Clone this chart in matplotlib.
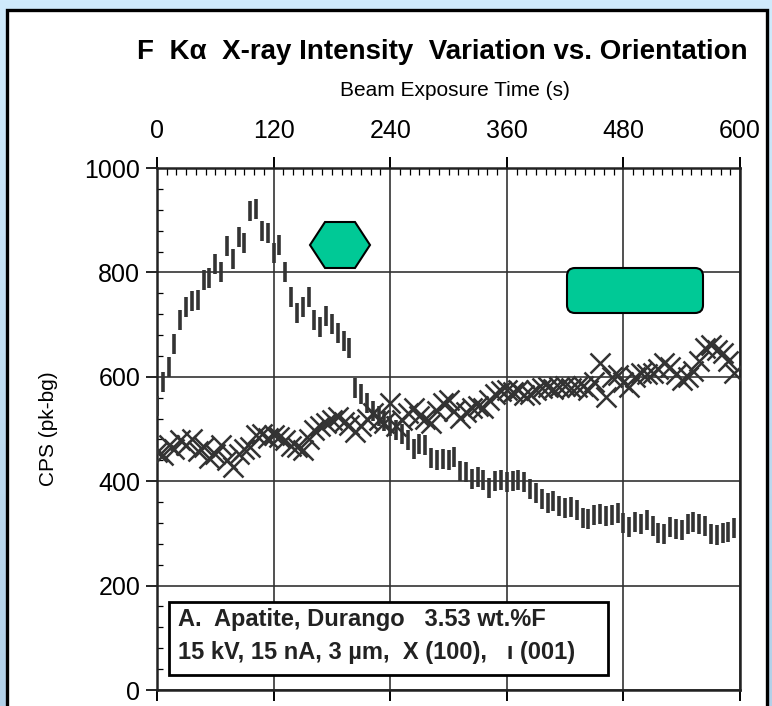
import numpy as np
import matplotlib
matplotlib.use("Agg")
import matplotlib.pyplot as plt
from matplotlib.patches import Rectangle, Polygon, FancyBboxPatch
from matplotlib.ticker import MultipleLocator
from matplotlib.colors import LinearSegmentedColormap

plt.rcParams['font.family'] = ['Liberation Sans', 'DejaVu Sans']

# ---------------------------------------------------------------------------
# Data (one point every 6 s)
time_s = np.arange(0, 600, 6)

cps_100 = [455, 450, 470, 462, 478, 470, 480, 458, 466, 445,
           452, 470, 440, 427, 452, 462, 466, 488, 490, 482,
           488, 484, 478, 468, 465, 459, 480, 498, 505, 511,
           518, 523, 513, 508, 495, 505, 520, 530, 517, 512,
           549, 505, 517, 530, 541, 525, 520, 511, 535, 549,
           555, 535, 522, 532, 541, 545, 541, 555, 568, 572,
           574, 570, 574, 566, 568, 574, 578, 580, 576, 580,
           582, 578, 580, 582, 575, 590, 626, 561, 600, 603,
           590, 580, 600, 607, 605, 607, 615, 626, 618, 605,
           593, 600, 612, 630, 656, 660, 652, 645, 630, 607]

cps_001 = [545, 590, 618, 662, 708, 733, 745, 748, 785, 789,
           817, 800, 850, 825, 867, 857, 918, 922, 880, 876,
           838, 852, 800, 752, 722, 733, 752, 708, 695, 716,
           702, 683, 668, 656, 578, 568, 550, 535, 525, 515,
           505, 498, 490, 478, 462, 472, 470, 445, 440, 442,
           440, 446, 420, 418, 405, 408, 402, 387, 400, 402,
           398, 400, 402, 398, 385, 378, 365, 358, 362, 352,
           348, 350, 345, 330, 328, 335, 338, 334, 336, 340,
           320, 312, 322, 318, 325, 315, 300, 298, 312, 308,
           306, 318, 322, 318, 314, 298, 296, 300, 302, 310]

x_ticks = [0, 120, 240, 360, 480, 600]
y_ticks = [0, 200, 400, 600, 800, 1000]

INK = '#333333'
GREEN = '#00C996'

# ---------------------------------------------------------------------------
fig = plt.figure(figsize=(7.72, 7.06), dpi=100)

# light blue gradient background
bg = fig.add_axes([0, 0, 1, 1], zorder=-2)
cmap = LinearSegmentedColormap.from_list('bg', ['#d0ebfc', '#b2d0e8'])
bg.imshow(np.linspace(0, 1, 256).reshape(-1, 1), aspect='auto', cmap=cmap,
          extent=[0, 1, 0, 1])
bg.set_axis_off()

# white panel with black frame (pixel coords / 100 -> inches)
panel = Rectangle((0.065, -0.05), 7.60, 7.01,
                  transform=fig.dpi_scale_trans, facecolor='white',
                  edgecolor='black', linewidth=2.4, zorder=-1)
fig.add_artist(panel)

ax = fig.add_axes([157 / 772, 16 / 706, 583 / 772, 522 / 706])
ax.set_facecolor('white')

ax.plot(time_s, cps_100, linestyle='none', marker='x', markersize=14,
        markeredgewidth=1.8, color=INK, zorder=3)
ax.plot(time_s, cps_001, linestyle='none', marker='|', markersize=14,
        markeredgewidth=2.6, color=INK, zorder=3)

ax.set_xlim(0, 600)
ax.set_ylim(0, 1000)
ax.set_xticks(x_ticks)
ax.set_yticks(y_ticks)
ax.xaxis.set_minor_locator(MultipleLocator(10))
ax.yaxis.set_minor_locator(MultipleLocator(40))
ax.xaxis.tick_top()

ax.tick_params(axis='x', which='major', direction='out', length=8, width=1.4,
               top=True, bottom=True, labeltop=True, labelbottom=False,
               labelsize=18, pad=10, colors='black')
ax.tick_params(axis='x', which='minor', direction='in', length=5, width=0.9,
               top=True, bottom=False)
ax.tick_params(axis='y', which='major', direction='out', length=8, width=1.2,
               left=True, right=False, labelsize=18, pad=4)
ax.tick_params(axis='y', which='minor', direction='in', length=4, width=0.9,
               left=True, right=False)

ax.grid(True, which='major', color='#333333', linewidth=1.2)
ax.set_axisbelow(True)
for s in ax.spines.values():
    s.set_linewidth(1.8)
    s.set_color('#222222')

ax.set_ylabel('CPS (pk-bg)', fontsize=15, labelpad=19)

# title and top axis label
fig.text(442 / 772, 1 - 52 / 706, 'F  K\u03b1  X-ray Intensity  Variation vs. Orientation',
         ha='center', va='center', fontsize=20, fontweight='bold')
fig.text(455 / 772, 1 - 90 / 706, 'Beam Exposure Time (s)',
         ha='center', va='center', fontsize=15)

# sample description box
box = Rectangle((0.0206, 0.0287), 0.7530, 0.1400, transform=ax.transAxes,
                facecolor='white', edgecolor='black', linewidth=2.0, zorder=5)
ax.add_patch(box)
ax.text(0.036, 0.136, 'A.  Apatite, Durango   3.53 wt.%F',
        transform=ax.transAxes, ha='left', va='center', fontsize=17,
        fontweight='bold', color='#222222', zorder=6)
ax.text(0.036, 0.071, '15 kV, 15 nA, 3 \u00b5m,  X (100),   \u0131 (001)',
        transform=ax.transAxes, ha='left', va='center', fontsize=17,
        fontweight='bold', color='#222222', zorder=6)

# green annotation shapes (pixel positions / 100 -> inches)
hexagon = Polygon([(3.10, 4.61), (3.25, 4.84), (3.55, 4.84), (3.70, 4.61),
                   (3.55, 4.38), (3.25, 4.38)], closed=True,
                  transform=fig.dpi_scale_trans, facecolor=GREEN,
                  edgecolor='black', linewidth=1.5, zorder=10)
fig.add_artist(hexagon)

rrect = FancyBboxPatch((5.67, 3.93), 1.36, 0.45,
                       boxstyle='round,pad=0,rounding_size=0.08',
                       transform=fig.dpi_scale_trans, facecolor=GREEN,
                       edgecolor='black', linewidth=1.5, zorder=10)
fig.add_artist(rrect)

fig.savefig('out.png', dpi=100)
